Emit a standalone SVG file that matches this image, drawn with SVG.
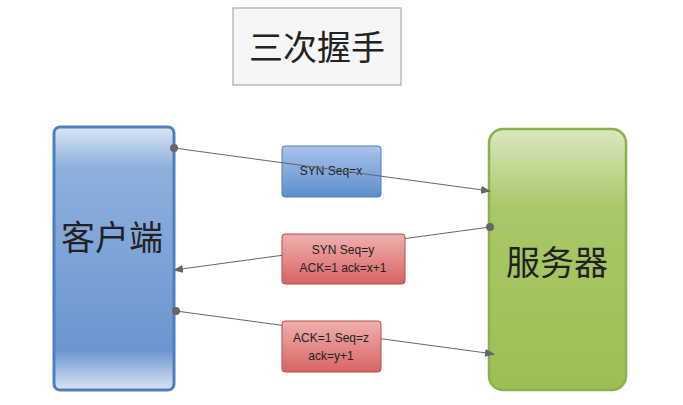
<svg xmlns="http://www.w3.org/2000/svg" width="683" height="405" viewBox="0 0 683 405">
<style>
.t{font-family:"Liberation Sans",Arial,sans-serif;font-size:12px;fill:#222;text-anchor:middle}
.c{font-family:"Noto Sans CJK SC",sans-serif;fill:#222;text-anchor:middle}
.ln{stroke:#666;stroke-width:1;fill:none}
</style>
<defs>
<marker id="a" markerWidth="10" markerHeight="8" refX="9" refY="4" orient="auto" markerUnits="userSpaceOnUse"><path d="M0,0L10,4L0,8z" fill="#666"/></marker>
<linearGradient id="bl" x1="0" y1="0" x2="0" y2="1"><stop offset="0" stop-color="#dbe6f4"/><stop offset="0.15" stop-color="#8fb0dd"/><stop offset="0.85" stop-color="#6b96d0"/><stop offset="1" stop-color="#dbe6f4"/></linearGradient>
<linearGradient id="gr" x1="0" y1="0" x2="0" y2="1"><stop offset="0" stop-color="#d9e8c0"/><stop offset="0.3" stop-color="#a9c868"/><stop offset="1" stop-color="#9bbf55"/></linearGradient>
<linearGradient id="sb" x1="0" y1="0" x2="0" y2="1"><stop offset="0" stop-color="#a9c4ea"/><stop offset="1" stop-color="#5b8ccc"/></linearGradient>
<linearGradient id="sr" x1="0" y1="0" x2="0" y2="1"><stop offset="0" stop-color="#f0b0b0"/><stop offset="1" stop-color="#d86464"/></linearGradient>
</defs>
<g id="title"><rect x="233" y="8" width="168" height="77" fill="#f6f6f6" stroke="#999"/><text class="c" x="317" y="60" font-size="34">三次握手</text></g>
<g id="client"><rect x="54" y="127" width="120" height="263" rx="6" fill="url(#bl)" stroke="#4f7fbf" stroke-width="3"/><text class="c" x="112" y="250" font-size="34">客户端</text></g>
<g id="server"><rect x="489" y="129" width="137" height="261" rx="14" fill="url(#gr)" stroke="#8db04c" stroke-width="2.5"/><text class="c" x="557" y="275" font-size="34">服务器</text></g>
<g id="connectors-back">
<line class="ln" x1="490" y1="227" x2="174" y2="270" marker-end="url(#a)"/>
<line class="ln" x1="176" y1="311" x2="494" y2="354" marker-end="url(#a)"/>
<circle cx="490" cy="227" r="4" fill="#666"/><circle cx="176" cy="311" r="4" fill="#666"/>
</g>
<g id="m1"><rect x="282" y="146" width="99" height="51" rx="3" fill="url(#sb)" stroke="#4f7fbf"/><text class="t" x="331" y="175">SYN Seq=x</text></g>
<g id="m2"><rect x="282" y="234" width="123" height="50" rx="3" fill="url(#sr)" stroke="#c04848"/><text class="t" x="343" y="254">SYN Seq=y</text><text class="t" x="343" y="272">ACK=1 ack=x+1</text></g>
<g id="m3"><rect x="282" y="321" width="99" height="51" rx="3" fill="url(#sr)" stroke="#c04848"/><text class="t" x="331" y="342">ACK=1 Seq=z</text><text class="t" x="331" y="360">ack=y+1</text></g>
<g id="connectors-front">
<line class="ln" x1="174" y1="148" x2="490" y2="191" marker-end="url(#a)"/>
<circle cx="174" cy="148" r="4" fill="#666"/>
</g>
</svg>
